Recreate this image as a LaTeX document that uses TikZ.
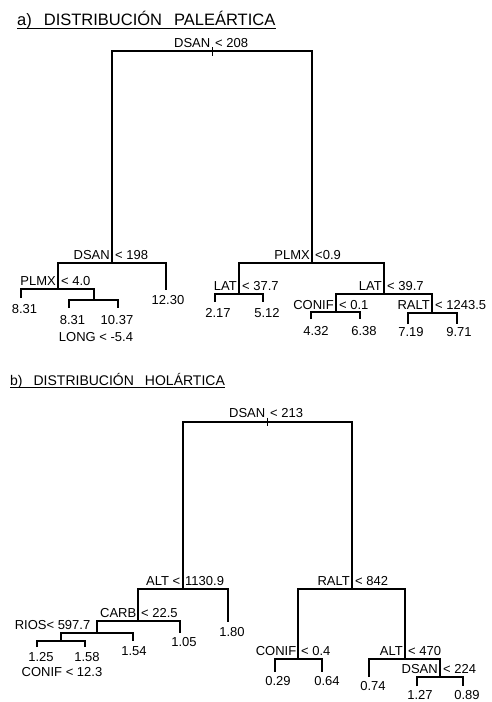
\documentclass[tikz,border=0pt]{standalone}
\usepackage{fontspec}
\setmainfont{Liberation Sans}
\begin{document}
\begin{tikzpicture}[x=1pt,y=-1pt,
  edge/.style={line width=1.7pt, line join=miter},
  tickmark/.style={line width=0.7pt},
  lab/.style={inner sep=0pt, font=\fontsize{13}{15}\selectfont},
  val/.style={inner sep=0pt, font=\fontsize{13}{15}\selectfont},
  ttl/.style={anchor=base west, inner sep=0pt},
  uline/.style={line width=1.1pt}
]
\useasboundingbox (0,0) rectangle (491,702);

% ---------- titles ----------
\node[ttl, font=\fontsize{16.5}{18}\selectfont] (ta) at (17,25.5) {a)\hspace{12pt}DISTRIBUCIÓN\hspace{12pt}PALEÁRTICA};
\draw[uline] ([yshift=-3pt]ta.base west) -- ([yshift=-3pt]ta.base east);
\node[ttl, font=\fontsize{14}{16}\selectfont] (tb) at (10,385) {b)\hspace{11pt}DISTRIBUCIÓN\hspace{11pt}HOLÁRTICA};
\draw[uline] ([yshift=-2.5pt]tb.base west) -- ([yshift=-2.5pt]tb.base east);

% ---------- tree a ----------
\coordinate (a0) at (212,51);
\coordinate (a1) at (112,263);
\coordinate (a2) at (58,289);
\coordinate (a3) at (94,300);
\coordinate (a4) at (312,263);
\coordinate (a5) at (239,294);
\coordinate (a6) at (384,294);
\coordinate (a7) at (336,312);
\coordinate (a8) at (432,313);
\coordinate (la1) at (21,298);
\coordinate (la2) at (69,308);
\coordinate (la3) at (118,308);
\coordinate (la4) at (166,290);
\coordinate (la5) at (215,302);
\coordinate (la6) at (263,302);
\coordinate (la7) at (311,319);
\coordinate (la8) at (360,319);
\coordinate (la9) at (408,324);
\coordinate (la10) at (457,324);

\draw[edge] (a1) |- (a0) -| (a4);
\draw[edge] (a2) |- (a1) -| (la4);
\draw[edge] (la1) |- (a2) -| (a3);
\draw[edge] (la2) |- (a3) -| (la3);
\draw[edge] (a5) |- (a4) -| (a6);
\draw[edge] (la5) |- (a5) -| (la6);
\draw[edge] (a7) |- (a6) -| (a8);
\draw[edge] (la7) |- (a7) -| (la8);
\draw[edge] (la9) |- (a8) -| (la10);
\draw[tickmark] ([yshift=4pt]a0) -- ([yshift=-5pt]a0);

\node[lab, anchor=base east] (a0n) at ([xshift=-1.5pt,yshift=4pt]a0) {DSAN};
\node[lab, anchor=base west] (a0t) at ([xshift=3pt,yshift=4pt]a0) {< 208};
\node[lab, anchor=base east] (a1n) at ([xshift=-2pt,yshift=3.5pt]a1) {DSAN};
\node[lab, anchor=base west] (a1t) at ([xshift=3pt,yshift=3.5pt]a1) {< 198};
\node[lab, anchor=base east] (a2n) at ([xshift=-2pt,yshift=3.5pt]a2) {PLMX};
\node[lab, anchor=base west] (a2t) at ([xshift=3pt,yshift=3.5pt]a2) {< 4.0};
\node[lab] (a3l) at (96,337) {LONG < -5.4};
\node[lab, anchor=base east] (a4n) at ([xshift=-2pt,yshift=3.5pt]a4) {PLMX};
\node[lab, anchor=base west] (a4t) at ([xshift=3pt,yshift=3.5pt]a4) {<0.9};
\node[lab, anchor=base east] (a5n) at ([xshift=-2pt,yshift=3.5pt]a5) {LAT};
\node[lab, anchor=base west] (a5t) at ([xshift=3pt,yshift=3.5pt]a5) {< 37.7};
\node[lab, anchor=base east] (a6n) at ([xshift=-2pt,yshift=3.5pt]a6) {LAT};
\node[lab, anchor=base west] (a6t) at ([xshift=3pt,yshift=3.5pt]a6) {< 39.7};
\node[lab, anchor=base east] (a7n) at ([xshift=-2pt,yshift=3pt]a7) {CONIF};
\node[lab, anchor=base west] (a7t) at ([xshift=3pt,yshift=3pt]a7) {< 0.1};
\node[lab, anchor=base east] (a8n) at ([xshift=-2pt,yshift=3.5pt]a8) {RALT};
\node[lab, anchor=base west] (a8t) at ([xshift=3pt,yshift=3.5pt]a8) {< 1243.5};

\node[val] (va1) at (24.5,309) {8.31};
\node[val] (va2) at (72.5,320) {8.31};
\node[val] (va3) at (117,320) {10.37};
\node[val] (va4) at (168,300) {12.30};
\node[val] (va5) at (218,313) {2.17};
\node[val] (va6) at (267,313) {5.12};
\node[val] (va7) at (316,331) {4.32};
\node[val] (va8) at (364,331) {6.38};
\node[val] (va9) at (411,332) {7.19};
\node[val] (va10) at (459,332) {9.71};

% ---------- tree b ----------
\coordinate (b0) at (267,422);
\coordinate (b1) at (183,589);
\coordinate (b2) at (138,621);
\coordinate (b3) at (97,633);
\coordinate (b4) at (61,641);
\coordinate (b5) at (352,589);
\coordinate (b6) at (298,659);
\coordinate (b7) at (405,659);
\coordinate (b8) at (440,677);
\coordinate (lb1) at (37,647);
\coordinate (lb2) at (85,647);
\coordinate (lb3) at (133,641);
\coordinate (lb4) at (180,633);
\coordinate (lb5) at (228,622);
\coordinate (lb6) at (275,672);
\coordinate (lb7) at (322,672);
\coordinate (lb8) at (369,677);
\coordinate (lb9) at (417,686);
\coordinate (lb10) at (463,686);

\draw[edge] (b1) |- (b0) -| (b5);
\draw[edge] (b2) |- (b1) -| (lb5);
\draw[edge] (b3) |- (b2) -| (lb4);
\draw[edge] (b4) |- (b3) -| (lb3);
\draw[edge] (lb1) |- (b4) -| (lb2);
\draw[edge] (b6) |- (b5) -| (b7);
\draw[edge] (lb6) |- (b6) -| (lb7);
\draw[edge] (lb8) |- (b7) -| (b8);
\draw[edge] (lb9) |- (b8) -| (lb10);
\draw[tickmark] ([yshift=4.5pt]b0) -- ([yshift=-4pt]b0);

\node[lab, anchor=base east] (b0n) at ([xshift=-1.5pt,yshift=4.5pt]b0) {DSAN};
\node[lab, anchor=base west] (b0t) at ([xshift=3pt,yshift=4.5pt]b0) {< 213};
\node[lab, anchor=base east] (b1n) at ([xshift=-2.5pt,yshift=3.5pt]b1) {ALT <};
\node[lab, anchor=base west] (b1t) at ([xshift=2pt,yshift=3.5pt]b1) {1130.9};
\node[lab, anchor=base east] (b2n) at ([xshift=-1.5pt,yshift=3.5pt]b2) {CARB};
\node[lab, anchor=base west] (b2t) at ([xshift=3pt,yshift=3.5pt]b2) {< 22.5};
\node[lab, anchor=base east] (b3l) at ([xshift=-6.5pt,yshift=3.5pt]b3) {RIOS< 597.7};
\node[lab] (b4l) at (62,672) {CONIF < 12.3};
\node[lab, anchor=base east] (b5n) at ([xshift=-2pt,yshift=3.5pt]b5) {RALT};
\node[lab, anchor=base west] (b5t) at ([xshift=3pt,yshift=3.5pt]b5) {< 842};
\node[lab, anchor=base east] (b6n) at ([xshift=-1.5pt,yshift=3.5pt]b6) {CONIF};
\node[lab, anchor=base west] (b6t) at ([xshift=3pt,yshift=3.5pt]b6) {< 0.4};
\node[lab, anchor=base east] (b7n) at ([xshift=-2pt,yshift=3.5pt]b7) {ALT};
\node[lab, anchor=base west] (b7t) at ([xshift=3pt,yshift=3.5pt]b7) {< 470};
\node[lab, anchor=base east] (b8n) at ([xshift=-2pt,yshift=3.5pt]b8) {DSAN};
\node[lab, anchor=base west] (b8t) at ([xshift=3pt,yshift=3.5pt]b8) {< 224};

\node[val] (vb1) at (41,657) {1.25};
\node[val] (vb2) at (87,657) {1.58};
\node[val] (vb3) at (134,651) {1.54};
\node[val] (vb4) at (184,642) {1.05};
\node[val] (vb5) at (232,632) {1.80};
\node[val] (vb6) at (278,681) {0.29};
\node[val] (vb7) at (327,681) {0.64};
\node[val] (vb8) at (373,686) {0.74};
\node[val] (vb9) at (420,694.5) {1.27};
\node[val] (vb10) at (467,695.5) {0.89};
\end{tikzpicture}
\end{document}
